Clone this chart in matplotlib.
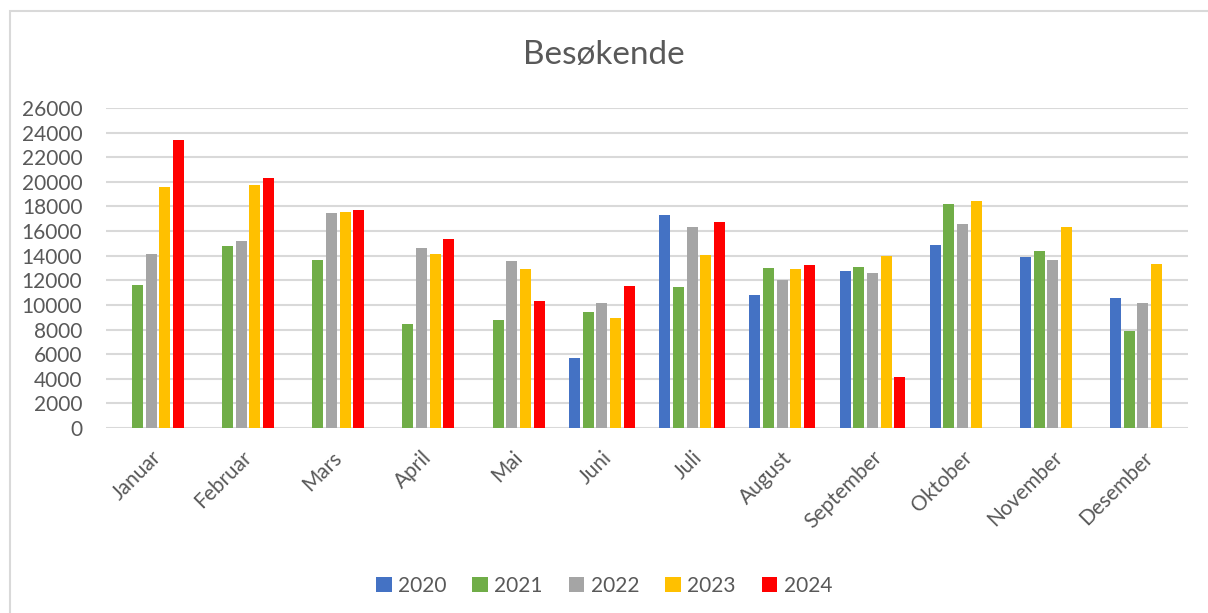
import numpy as np
import matplotlib.pyplot as plt
from matplotlib.patches import Rectangle

plt.rcParams['font.family'] = ['Lato', 'DejaVu Sans']

months = ["Januar", "Februar", "Mars", "April", "Mai", "Juni", "Juli",
          "August", "September", "Oktober", "November", "Desember"]
years = ["2020", "2021", "2022", "2023", "2024"]
colors = ["#4472C4", "#70AD47", "#A5A5A5", "#FFC000", "#FF0000"]

# None = no bar for that month
v2020 = [None, None, None, None, None, 5700, 17300, 10800, 12750, 14850, 13900, 10550]
v2021 = [11600, 14800, 13650, 8450, 8800, 9450, 11450, 13000, 13100, 18200, 14400, 7900]
v2022 = [14100, 15200, 17450, 14600, 13550, 10150, 16350, 12050, 12600, 16600, 13650, 10150]
v2023 = [19600, 19750, 17550, 14150, 12950, 8950, 14050, 12950, 13950, 18450, 16350, 13350]
v2024 = [23400, 20300, 17700, 15350, 10350, 11550, 16750, 13250, 4150, None, None, None]
series = [v2020, v2021, v2022, v2023, v2024]

fig = plt.figure(figsize=(12.08, 6.13), dpi=100)
ax = fig.add_axes([106 / 1208, 185 / 613, 1082 / 1208, 320 / 613])

# chart border
fig.patches.append(Rectangle((10 / 1208, -0.01), 1.1, 0.992, transform=fig.transFigure,
                             fill=False, edgecolor="#D9D9D9", linewidth=1.5))

x = np.arange(len(months))
slot = 0.152
width = 0.122
for i, (vals, col, yr) in enumerate(zip(series, colors, years)):
    xs = [xi + (i - 2) * slot for xi, v in zip(x, vals) if v is not None]
    hs = [v for v in vals if v is not None]
    ax.bar(xs, hs, width=width, color=col, label=yr, zorder=3)

ax.set_xlim(-0.5, len(months) - 0.5)
ax.set_ylim(0, 26000)
ax.set_yticks(np.arange(0, 26001, 2000))
ax.grid(axis="y", color="#D9D9D9", linewidth=1.5, zorder=0)
for s in ax.spines.values():
    s.set_visible(False)
ax.tick_params(axis="both", length=0, colors="#595959", labelsize=15)
ax.tick_params(axis="y", pad=17)
ax.set_xticks(x)
ax.set_xticklabels(months, rotation=45, ha="right", va="top", rotation_mode="anchor")
ax.tick_params(axis="x", pad=14)

fig.text(0.5, 1 - 55 / 613, "Besøkende", ha="center", va="center",
         fontsize=24, color="#595959")

ax.legend(loc="center", bbox_to_anchor=(0.5, 1 - 586 / 613), bbox_transform=fig.transFigure,
          ncol=5, frameon=False, fontsize=15, labelcolor="#595959",
          handlelength=0.75, handleheight=0.75, handletextpad=0.3, columnspacing=1.25)

fig.savefig("out.png", dpi=100)
